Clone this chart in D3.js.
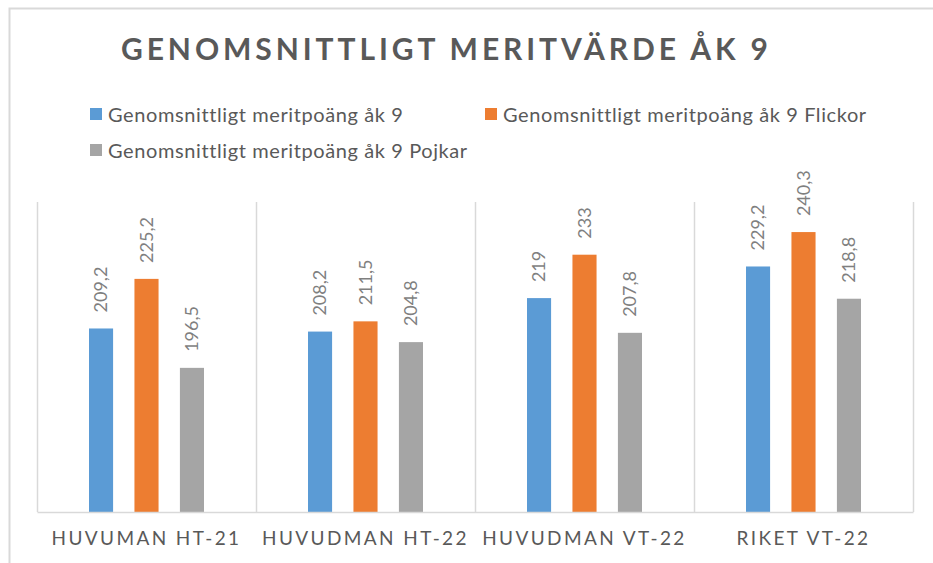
<!DOCTYPE html>
<html>
<head>
<meta charset="utf-8">
<script src="https://cdn.jsdelivr.net/npm/d3@7"></script>
<style>
  body { margin: 0; background: #fff; }
  svg { display: block; font-family: Lato, "Open Sans", sans-serif; }
</style>
</head>
<body>
<div id="chart"></div>
<script>
// Data
var categories = ["HUVUMAN HT-21", "HUVUDMAN HT-22", "HUVUDMAN VT-22", "RIKET VT-22"];
var seriesNames = ["Genomsnittligt meritpoäng åk 9",
                   "Genomsnittligt meritpoäng åk 9 Flickor",
                   "Genomsnittligt meritpoäng åk 9 Pojkar"];
var totalValues  = [209.2, 208.2, 219, 229.2];
var flickorValues = [225.2, 211.5, 233, 240.3];
var pojkarValues  = [196.5, 204.8, 207.8, 218.8];
var colors = ["#5b9bd5", "#ed7d31", "#a5a5a5"];
var titleText = "GENOMSNITTLIGT MERITVÄRDE ÅK 9";

meritChart();

function meritChart() {
  var svg = d3.select("#chart")
              .append("svg")
              .attr("width", 933)
              .attr("height", 563);

  var margin = {top: 202, right: 20, bottom: 51, left: 37},
      width = 933 - margin.left - margin.right,
      height = 563 - margin.top - margin.bottom;

  // chart frame (top and left edge visible)
  svg.append("path")
      .attr("d", "M9.5,563V8.5H933")
      .attr("fill", "none")
      .attr("stroke", "#d9d9d9")
      .attr("stroke-width", 2);

  // title
  svg.append("text")
      .attr("x", 121)
      .attr("y", 60)
      .attr("textLength", 647)
      .attr("lengthAdjust", "spacing")
      .attr("fill", "#595959")
      .style("font-size", "30px")
      .style("font-weight", "bold")
      .text(titleText);

  // legend
  var legendPos = [[90, 108], [485, 108], [90, 144]];
  var legend = svg.selectAll(".legend")
      .data(seriesNames)
      .enter().append("g")
      .attr("class", "legend")
      .attr("transform", function(d, i) { return "translate(" + legendPos[i][0] + "," + legendPos[i][1] + ")"; });
  legend.append("rect")
      .attr("width", 12)
      .attr("height", 12)
      .attr("fill", function(d, i) { return colors[i]; });
  legend.append("text")
      .attr("x", 18)
      .attr("y", 13.5)
      .attr("fill", "#595959")
      .style("font-size", "20px")
      .style("letter-spacing", "0.6px")
      .text(function(d) { return d; });

  var g = svg.append("g")
      .attr("transform", "translate(" + margin.left + "," + margin.top + ")");

  var x0 = d3.scaleBand().domain(categories).range([0, width]);
  var x1 = d3.scaleBand().domain([0, 1, 2]).range([x0.bandwidth() / 2 - 57.5, x0.bandwidth() / 2 + 57.5]).paddingInner(0.47);
  var y = d3.scaleLinear().domain([150, 250]).range([height, 0]);

  // vertical gridlines between categories
  var bounds = categories.map(function(c) { return x0(c); }).concat([width]);
  g.selectAll(".vgrid")
      .data(bounds)
      .enter().append("line")
      .attr("x1", function(d) { return Math.round(d) + 0.5; })
      .attr("x2", function(d) { return Math.round(d) + 0.5; })
      .attr("y1", 0)
      .attr("y2", height)
      .attr("stroke", "#d9d9d9")
      .attr("stroke-width", 1.5);

  // bars
  var data = categories.map(function(c, i) {
    return {cat: c, vals: [totalValues[i], flickorValues[i], pojkarValues[i]]};
  });

  var groups = g.selectAll(".cat")
      .data(data)
      .enter().append("g")
      .attr("class", "cat")
      .attr("transform", function(d) { return "translate(" + x0(d.cat) + ",0)"; });

  groups.selectAll("rect")
      .data(function(d) { return d.vals; })
      .enter().append("rect")
      .attr("x", function(d, i) { return x1(i); })
      .attr("y", function(d) { return y(d); })
      .attr("width", x1.bandwidth())
      .attr("height", function(d) { return height - y(d); })
      .attr("fill", function(d, i) { return colors[i]; });

  groups.selectAll(".val")
      .data(function(d) { return d.vals; })
      .enter().append("text")
      .attr("class", "val")
      .attr("transform", function(d, i) {
        return "translate(" + (x1(i) + x1.bandwidth() / 2) + "," + (y(d) - 16) + ")rotate(-90)";
      })
      .attr("dy", "0.35em")
      .attr("fill", "#7f7f7f")
      .style("font-size", "18px")
      .text(function(d) { return String(d).replace(".", ","); });

  // x axis
  var xAxis = g.append("g")
      .attr("transform", "translate(0," + height + ")")
      .call(d3.axisBottom(x0).tickSize(0).tickPadding(20));
  xAxis.select(".domain")
      .attr("stroke", "#d9d9d9")
      .attr("stroke-width", 1.5);
  xAxis.selectAll("text")
      .attr("fill", "#595959")
      .attr("dy", "0.71em")
      .style("font-family", "Lato, sans-serif")
      .style("font-size", "19px")
      .style("letter-spacing", "2.4px");
}
</script>
</body>
</html>
